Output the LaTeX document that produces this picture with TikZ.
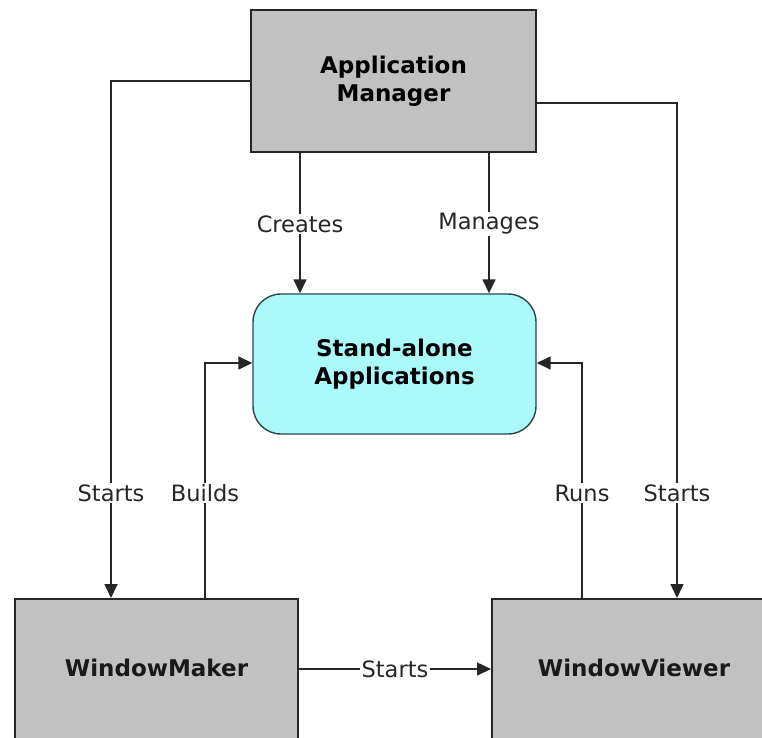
\documentclass[tikz,border=0pt]{standalone}
\usepackage{fontspec}
\setmainfont{DejaVu Sans}
\usetikzlibrary{arrows.meta}
\definecolor{boxgray}{RGB}{193,193,193}
\definecolor{sacyan}{RGB}{170,250,252}
\definecolor{saborder}{RGB}{45,70,70}
\begin{document}
\begin{tikzpicture}[x=1pt,y=-1pt,
  box/.style={draw=black!85, line width=1.9pt, fill=boxgray, minimum width=#1,
    minimum height=140pt, inner sep=0pt, align=center,
    font=\fontsize{23}{28}\selectfont\bfseries},
  boxtext/.style={inner sep=0pt, font=\fontsize{23}{28}\selectfont\bfseries, text=black!90},
  sabox/.style={draw=saborder, line width=1.4pt, fill=sacyan, rounded corners=28pt,
    minimum width=283pt, minimum height=140pt, inner sep=0pt, align=center,
    font=\fontsize{23}{28}\selectfont\bfseries},
  conn/.style={draw=black!85, line width=1.5pt, -{Triangle[length=14pt,width=13pt]}},
  lbl/.style={fill=white, inner sep=1.5pt, font=\fontsize{22.5}{25}\selectfont, text=black!85}]
\clip (0,0) rectangle (762,737);
\useasboundingbox (0,0) rectangle (762,737);
\fill[white] (0,0) rectangle (762,737);

\node[box=285pt, minimum height=142pt] (am) at (393.5,81) {Application\\Manager};
\node[sabox] (sa) at (394.5,364) {Stand-alone\\Applications};
\node[box=283pt, minimum height=160pt, anchor=north] (wm) at (156.5,598) {};
\node[box=300pt, minimum height=160pt, anchor=north west] (wv) at (491,598) {};
\node[boxtext] (wmt) at (156.5,668) {WindowMaker};
\node[boxtext] (wvt) at (634,668) {WindowViewer};

\coordinate (xl) at (111,81);
\coordinate (xr) at (677,103);
\coordinate (cb) at (205,363);
\coordinate (cr) at (582,363);
\coordinate (xc) at (300,0);
\coordinate (xm) at (489,0);
\coordinate (yb) at (0,669);

\draw[conn] (am.west |- xl) -- (xl) -- (xl |- wm.north);
\draw[conn] (am.east |- xr) -- (xr) -- (xr |- wv.north);
\draw[conn] (am.south -| xc) -- (sa.north -| xc);
\draw[conn] (am.south -| xm) -- (sa.north -| xm);
\draw[conn] (wm.north -| cb) -- (cb) -- (cb -| sa.west);
\draw[conn] (wv.north -| cr) -- (cr) -- (cr -| sa.east);
\draw[conn] (wm.east |- yb) -- node[lbl] (l7) {Starts} (wv.west |- yb);

\node[lbl] (l1) at (300,224) {Creates};
\node[lbl] (l2) at (489,224) {Manages};
\node[lbl] (l3) at (111,493) {Starts};
\node[lbl] (l4) at (205,493) {Builds};
\node[lbl] (l5) at (582,493) {Runs};
\node[lbl] (l6) at (677,493) {Starts};
\end{tikzpicture}
\end{document}
